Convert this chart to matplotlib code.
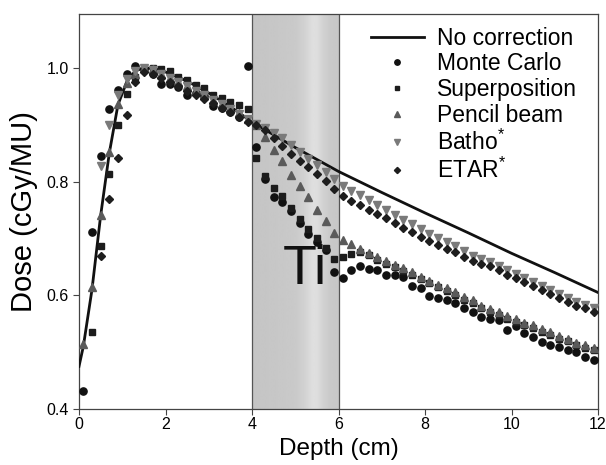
import numpy as np
import matplotlib
matplotlib.use("Agg")
import matplotlib.pyplot as plt

plt.rcParams['font.family'] = ['Liberation Sans', 'DejaVu Sans']
plt.rcParams['mathtext.fontset'] = 'custom'
plt.rcParams['mathtext.rm'] = 'Liberation Sans'

# sampling depths of the calculated points (cm)
depth = np.round(np.arange(0.1, 12.0, 0.2), 2)
nan = np.nan

# "No correction" curve
line_depth = [0, 0.1, 0.3, 0.5, 0.7, 0.9, 1.1, 1.3, 1.5, 1.75, 2, 2.5, 3, 3.5, 4,
              5, 6, 7, 8, 9, 10, 11, 12]
line_dose = [0.475, 0.51, 0.61, 0.74, 0.85, 0.935, 0.975, 0.995, 1.0, 0.999, 0.993,
             0.977, 0.956, 0.932, 0.905, 0.860, 0.818, 0.781, 0.745, 0.710, 0.674,
             0.640, 0.605]

monte_carlo = [0.432, 0.712, 0.845, 0.927, 0.961, 0.990, 1.003, 0.998, 0.990, 0.971,
               0.971, 0.967, 0.952, 0.956, 0.950, 0.933, 0.930, 0.922, 0.913, 1.003,
               0.861, 0.804, 0.773, 0.765, 0.749, 0.728, 0.708, 0.694, 0.680, 0.641,
               0.631, 0.644, 0.652, 0.646, 0.645, 0.636, 0.635, 0.632, 0.616, 0.613,
               0.599, 0.596, 0.592, 0.586, 0.578, 0.570, 0.562, 0.558, 0.557, 0.539,
               0.546, 0.533, 0.526, 0.518, 0.513, 0.509, 0.504, 0.500, 0.492, 0.486]

superposition = [nan, 0.536, 0.686, 0.813, 0.900, 0.955, 0.985, 0.998, 1.000, 0.998,
                 0.994, 0.985, 0.979, 0.970, 0.964, 0.953, 0.948, 0.941, 0.935, 0.927,
                 0.842, 0.810, 0.788, 0.774, 0.754, 0.735, 0.717, 0.701, 0.683, 0.664,
                 0.668, 0.673, 0.676, 0.671, 0.663, 0.656, 0.649, 0.643, 0.636, 0.628,
                 0.621, 0.614, 0.608, 0.600, 0.592, 0.586, 0.577, 0.571, 0.565, 0.559,
                 0.553, 0.547, 0.542, 0.536, 0.530, 0.524, 0.519, 0.512, 0.507, 0.503]

pencil_beam = [0.515, 0.614, 0.742, 0.852, 0.936, 0.973, 0.990, 1.000, 0.998, 0.990,
               0.983, 0.975, 0.968, 0.960, 0.952, 0.944, 0.936, 0.928, 0.920, 0.910,
               0.899, 0.878, 0.856, 0.836, 0.812, 0.793, 0.773, 0.751, 0.731, 0.710,
               0.698, 0.691, 0.682, 0.675, 0.668, 0.661, 0.654, 0.648, 0.641, 0.633,
               0.626, 0.619, 0.613, 0.605, 0.597, 0.591, 0.582, 0.576, 0.570, 0.564,
               0.558, 0.552, 0.547, 0.541, 0.535, 0.529, 0.524, 0.517, 0.512, 0.508]

batho = [nan, nan, 0.828, 0.899, 0.953, 0.980, 0.995, 1.000, 0.997, 0.990,
         0.983, 0.975, 0.968, 0.960, 0.952, 0.944, 0.936, 0.928, 0.919, 0.910,
         0.901, 0.895, 0.886, 0.876, 0.865, 0.853, 0.840, 0.829, 0.817, 0.805,
         0.792, 0.783, 0.776, 0.767, 0.759, 0.750, 0.741, 0.733, 0.725, 0.716,
         0.708, 0.700, 0.693, 0.686, 0.678, 0.670, 0.664, 0.658, 0.651, 0.644,
         0.638, 0.631, 0.624, 0.616, 0.609, 0.602, 0.595, 0.589, 0.583, 0.577]

etar = [nan, nan, 0.670, 0.770, 0.842, 0.917, 0.975, 0.993, 0.990, 0.983,
        0.976, 0.968, 0.960, 0.953, 0.946, 0.938, 0.930, 0.922, 0.914, 0.905,
        0.899, 0.891, 0.877, 0.863, 0.849, 0.837, 0.825, 0.814, 0.802, 0.787,
        0.774, 0.766, 0.759, 0.750, 0.743, 0.736, 0.727, 0.719, 0.711, 0.703,
        0.696, 0.689, 0.682, 0.676, 0.668, 0.661, 0.656, 0.651, 0.644, 0.636,
        0.631, 0.624, 0.617, 0.609, 0.602, 0.595, 0.588, 0.582, 0.577, 0.571]

fig = plt.figure(figsize=(6.06, 4.65), dpi=100)
ax = fig.add_axes([79 / 606, 1 - 409 / 465, (598 - 79) / 606, (409 - 14) / 465])

xmin, xmax, ymin, ymax = 0, 12, 0.4, 1.095

# titanium slab: grey band with a lighter streak
gx = np.linspace(4, 6, 300)
shade = np.interp(gx, [4, 4.5, 5.0, 5.2, 5.4, 5.5, 5.65, 5.8, 6],
                  [0.77, 0.78, 0.79, 0.82, 0.875, 0.87, 0.82, 0.79, 0.78])
ax.imshow(shade[np.newaxis, :], extent=[4, 6, ymin, ymax], aspect='auto',
          cmap='gray', vmin=0, vmax=1, zorder=0, interpolation='bilinear')
ax.axvline(4, color='#555555', lw=0.9, zorder=1)
ax.axvline(6, color='#555555', lw=0.9, zorder=1)
ax.text(5.23, 0.645, 'Ti', fontsize=40, ha='center', va='center', color='#111111')

ax.plot(line_depth, line_dose, color='#111111', lw=2, label='No correction', zorder=3)
ax.plot(depth, monte_carlo, 'o', color='#111111', ms=5.2, label='Monte Carlo', zorder=4)
ax.plot(depth, superposition, 's', color='#1c1c1c', ms=4.5, label='Superposition', zorder=5)
ax.plot(depth, pencil_beam, '^', color='#5a5a5a', ms=5.8, label='Pencil beam', zorder=6)
ax.plot(depth, batho, 'v', color='#7a7a7a', ms=5.8, label=r'Batho$^{*}$', zorder=7)
ax.plot(depth, etar, 'D', color='#1e1e1e', ms=4.2, label=r'ETAR$^{*}$', zorder=8)

ax.set_xlim(xmin, xmax)
ax.set_ylim(ymin, ymax)
ax.set_xticks([0, 2, 4, 6, 8, 10, 12])
ax.set_yticks([0.4, 0.6, 0.8, 1.0])
ax.set_yticklabels(['0.4', '0.6', '0.8', '1.0'])
ax.tick_params(labelsize=11.5, direction='out', length=4, width=0.8, color='#444444')
ax.tick_params(axis='x', pad=2)
for s in ax.spines.values():
    s.set_color('#444444')
    s.set_linewidth(0.9)

ax.set_xlabel('Depth (cm)', fontsize=17.5, labelpad=4)
ax.set_ylabel('Dose (cGy/MU)', fontsize=21, labelpad=6)

ax.legend(loc='upper left', frameon=False, fontsize=16.5, handlelength=2.3,
          handletextpad=0.6, labelspacing=0.12, markerscale=0.75,
          borderpad=0, borderaxespad=0, bbox_to_anchor=(0.5626, 0.968))

fig.savefig('out.png', dpi=100)
